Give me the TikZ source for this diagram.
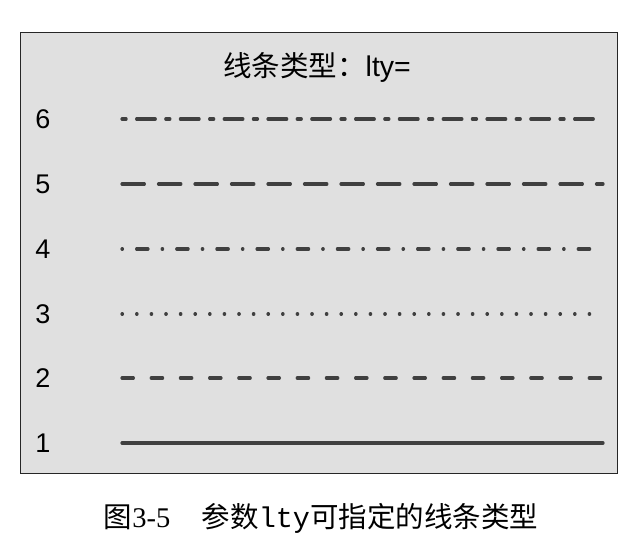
\documentclass[tikz,border=0pt]{standalone}
\usepackage{fontspec}
\setmainfont{Liberation Serif}
\setsansfont{Liberation Sans}
\setmonofont{Liberation Mono}
\newfontfamily\cjk{Noto Sans CJK SC}
\usetikzlibrary{positioning}

\definecolor{panelgray}{HTML}{E0E0E0}
\definecolor{linegray}{HTML}{404040}

\begin{document}
\begin{tikzpicture}[
        x=1pt, y=-1pt,
        panel/.style={draw=black!85, line width=1pt, fill=panelgray},
        ltylabel/.style={font=\fontsize{27}{27}\selectfont\sffamily, inner sep=0pt},
        ltyline/.style={draw=linegray, line width=3.2pt, line cap=round},
        capt/.style={font=\fontsize{28.5}{28.5}\selectfont, inner sep=0pt}
    ]
        \useasboundingbox (0,0) rectangle (638,538);
        \draw[panel] (20,32) rectangle (617,473);

        \node[ltylabel, font=\fontsize{28.5}{28.5}\selectfont\sffamily] (title) at (317,67) {{\cjk 线条类型：}lty=};

        % line types 1..6 from bottom to top
        \foreach \i/\yy in {1/443, 2/378, 3/314, 4/249, 5/184, 6/119} {
            \node[ltylabel] (lab\i) at (43,\yy) {\i};
            \coordinate (s\i) at (122,\yy);
            \coordinate (e\i) at (603,\yy);
        }

        \draw[ltyline] (s1) -- (e1);
        \draw[ltyline, dash pattern=on 11.4pt off 17.8pt] (s2) -- (e2);
        \draw[ltyline, dash pattern=on 0.45pt off 14.15pt] (s3) -- (e3);
        \draw[ltyline, dash pattern=on 0.45pt off 14.15pt on 11.4pt off 14.15pt] (s4) -- (e4);
        \draw[ltyline, dash pattern=on 22.35pt off 14.15pt] (s5) -- (e5);
        \draw[ltyline, dash pattern=on 4.1pt off 10.5pt on 18.7pt off 10.5pt] (s6) -- (e6);

        \node[capt] (caption) at (321,518) {{\cjk 图}3-5\hspace{1.1em}{\cjk 参数}{\ttfamily lty}{\cjk 可指定的线条类型}};
    \end{tikzpicture}
\end{document}
